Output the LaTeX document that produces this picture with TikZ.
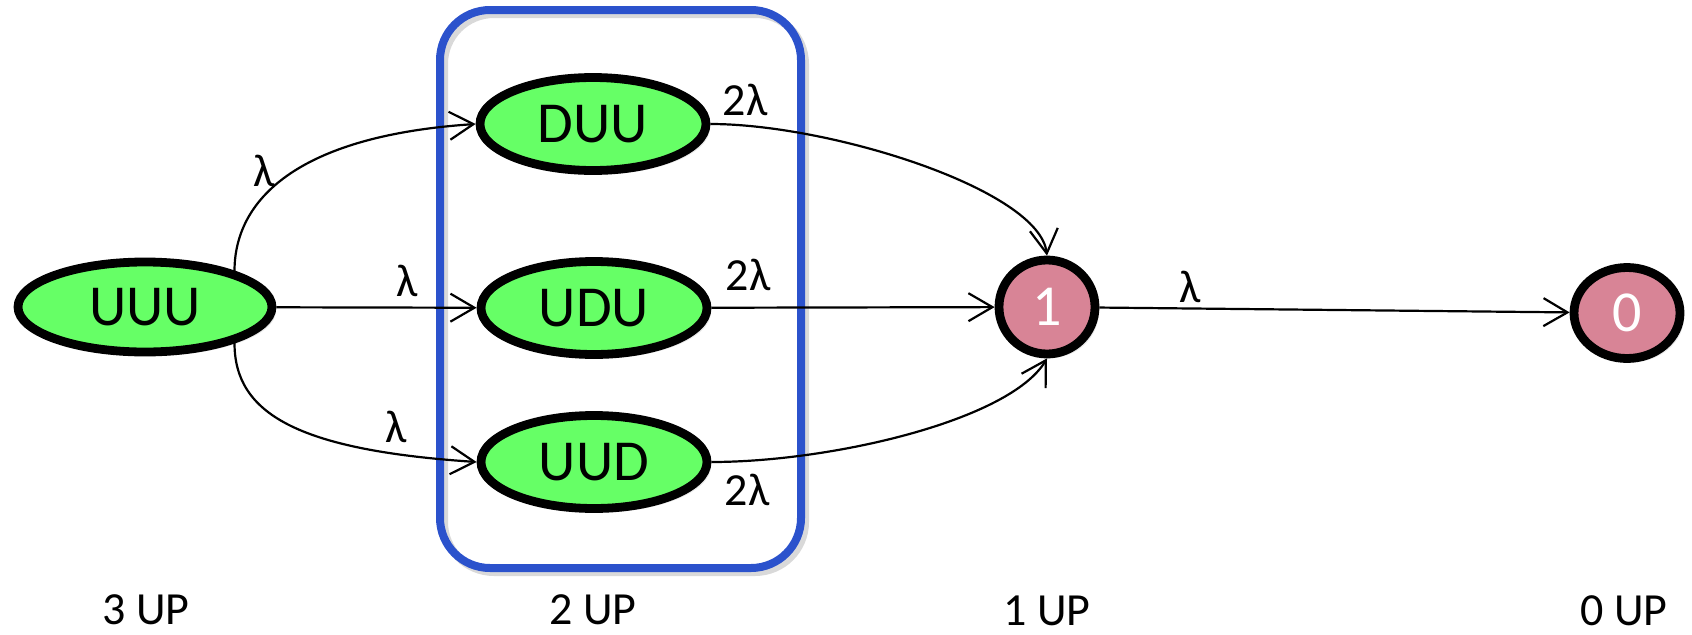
\documentclass[tikz,border=0pt]{standalone}
\usepackage{fontspec}
\setmainfont{Carlito}
\usepackage{xcolor}
\usepackage{tikz}
\usetikzlibrary{shapes,arrows.meta,shadows}
\definecolor{stategreen}{HTML}{66FF66}
\definecolor{statepink}{HTML}{D88496}
\definecolor{groupblue}{HTML}{2B52CC}

\begin{document}
\begin{tikzpicture}[x=0.5pt, y=0.5pt,
  state/.style={ellipse, draw, line width=4.4pt, inner sep=0, fill=stategreen,
    font=\fontsize{29pt}{30pt}\selectfont,
    drop shadow={shadow xshift=2pt, shadow yshift=-2pt, opacity=0.18}},
  sink/.style={state, fill=statepink, text=white},
  rate/.style={font=\fontsize{23pt}{24pt}\selectfont, inner sep=0},
  group/.style={line width=4pt, rounded corners=25pt},
  trans/.style={line width=1.1pt, -{Straight Barb[length=12pt,width=14pt]}}]
\useasboundingbox (0,0) rectangle (1692,634);
%group of the 2 UP states
\draw[group, black, opacity=0.15] (444,62) rectangle (805,620);
\draw[group, groupblue] (440,66) rectangle (801,624);
\node[state, minimum width=127pt, minimum height=45pt] (uuu) at (145,327) {UUU};
\node[state, minimum width=113pt, minimum height=46.5pt] (duu) at (593,510) {DUU};
\node[state, minimum width=113pt, minimum height=46.5pt] (udu) at (594,326) {UDU};
\node[state, minimum width=113pt, minimum height=46.5pt] (uud) at (594,172) {UUD};
\node[sink, minimum width=48pt, minimum height=47pt] (one) at (1047,327) {1};
\node[sink, minimum width=53pt, minimum height=45.5pt] (zero) at (1627,321) {0};
\draw [trans] (uuu.22) .. controls +(0,70) and +(-180,-12) .. (duu.west);
\draw [trans] (uuu) edge (udu);
\draw [trans] (uuu.-22) .. controls +(0,-70) and +(-180,12) .. (uud.west);
\draw [trans] (duu.east) .. controls +(120,0) and +(-8,66) .. (one.north);
\draw [trans] (udu) edge (one);
\draw [trans] (uud.east) .. controls +(120,0) and +(-37,-62) .. (one.south);
\draw [trans] (one) edge (zero);
\node[rate] (r1) at (264,463) {λ};
\node[rate] (r2) at (407,353) {λ};
\node[rate] (r3) at (396,207) {λ};
\node[rate] (r4) at (745,534) {2λ};
\node[rate] (r5) at (748,359) {2λ};
\node[rate] (r6) at (747,144) {2λ};
\node[rate] (r7) at (1190,347) {λ};
\node[rate] (l3) at (146,24) {3 UP};
\node[rate] (l2) at (593,24) {2 UP};
\node[rate] (l1) at (1047,23) {1 UP};
\node[rate] (l0) at (1624,23) {0 UP};
\end{tikzpicture}
\end{document}
